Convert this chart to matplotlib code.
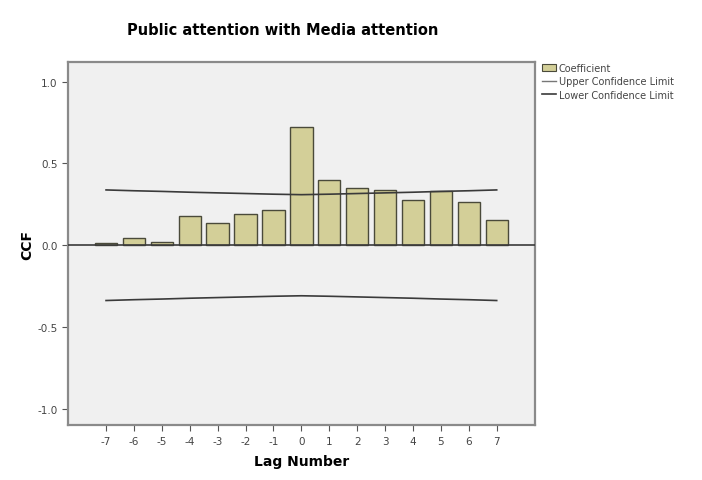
import numpy as np
import matplotlib

matplotlib.use("Agg")
import matplotlib.pyplot as plt
from matplotlib.patches import Patch
from matplotlib.lines import Line2D

# data
lags = [-7, -6, -5, -4, -3, -2, -1, 0, 1, 2, 3, 4, 5, 6, 7]
ccf = [0.014, 0.047, 0.017, 0.178, 0.137, 0.188, 0.215, 0.720,
       0.399, 0.352, 0.337, 0.276, 0.333, 0.266, 0.153]
upper_cl = [0.338, 0.333, 0.329, 0.324, 0.320, 0.316, 0.312, 0.309,
            0.312, 0.316, 0.320, 0.324, 0.329, 0.333, 0.338]
lower_cl = [-0.338, -0.333, -0.329, -0.324, -0.320, -0.316, -0.312, -0.309,
            -0.312, -0.316, -0.320, -0.324, -0.329, -0.333, -0.338]
yticks = [-1.0, -0.5, 0.0, 0.5, 1.0]

BAR_COLOR = "#d3cf98"
BG = "#f0f0f0"
FRAME = "#8a8a8a"
LINE = "#3a3a3a"

fig = plt.figure(figsize=(7.02, 4.81), dpi=100)
ax = fig.add_axes([0.097, 0.114, 0.665, 0.755])
ax.set_facecolor(BG)

ax.bar(lags, ccf, width=0.8, color=BAR_COLOR, edgecolor="#4a4a3a",
       linewidth=1.0, zorder=2)
ax.plot(lags, upper_cl, color=LINE, linewidth=1.2, zorder=3)
ax.plot(lags, lower_cl, color=LINE, linewidth=1.2, zorder=3)
ax.axhline(0.0, color=LINE, linewidth=1.2, zorder=3)

ax.set_xlim(-8.36, 8.37)
ax.set_ylim(-1.10, 1.12)
ax.set_xticks(lags)
ax.set_xticklabels([str(l) for l in lags])
ax.set_yticks(yticks)
ax.set_yticklabels([f"{v:.1f}" for v in yticks])
ax.tick_params(axis="both", direction="out", length=4, width=0.8,
               color="#555555", labelsize=7.5, labelcolor="#444444")

for sp in ax.spines.values():
    sp.set_color(FRAME)
    sp.set_linewidth(1.6)

ax.set_xlabel("Lag Number", fontsize=10, fontweight="bold", labelpad=6)
ax.set_ylabel("CCF", fontsize=10, fontweight="bold", labelpad=2)
fig.text(0.403, 0.937, "Public attention with Media attention",
         ha="center", va="center", fontsize=10.5, fontweight="bold")

handles = [
    Patch(facecolor=BAR_COLOR, edgecolor="#4a4a3a", linewidth=0.8),
    Line2D([0], [0], color="#777777", linewidth=1.0),
    Line2D([0], [0], color=LINE, linewidth=1.2),
]
labels = ["Coefficient", "Upper Confidence Limit", "Lower Confidence Limit"]
leg = fig.legend(handles, labels, loc="upper left",
                 bbox_to_anchor=(0.767, 0.875), frameon=False, fontsize=7,
                 handlelength=1.4, handletextpad=0.3, labelspacing=0.35,
                 borderaxespad=0)
for t in leg.get_texts():
    t.set_color("#444444")

fig.savefig("out.png", dpi=100)
